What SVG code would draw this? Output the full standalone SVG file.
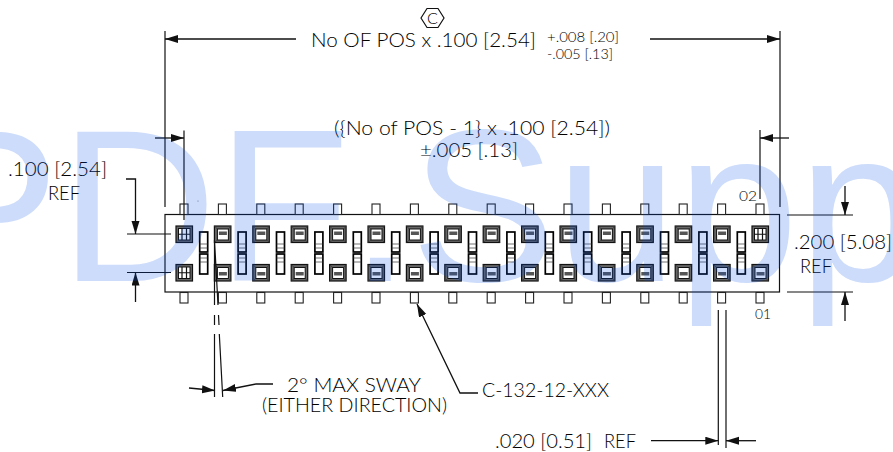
<svg xmlns="http://www.w3.org/2000/svg" xmlns:xlink="http://www.w3.org/1999/xlink" width="893" height="452" viewBox="0 0 893 452">
<style>
text{font-family:"Lato","Liberation Sans",sans-serif;fill:#000;font-size:19.500px;font-weight:300}
.s{font-size:13px}
.l{fill:none;stroke:#111;stroke-width:1.2}
.h{fill:none;stroke:#111;stroke-width:1.300;marker-end:url(#a)}
.p{fill:#fff;stroke:#222;stroke-width:1.1}
.o{fill:#fff;stroke:#111;stroke-width:1}
.w{fill:#fff;stroke:#000;stroke-width:1.700}
.n{fill:none;stroke:#333;stroke-width:.7}
.d{fill:#666;stroke:#111;stroke-width:1.200}
.wm{font-family:"Liberation Sans",Arial,sans-serif;font-size:218px;font-kerning:none;fill:#0050e6;fill-opacity:.2;font-weight:400}
</style>
<defs>
<marker id="a" markerUnits="userSpaceOnUse" markerWidth="14" markerHeight="10" refX="13" refY="4" orient="auto"><path d="M0 0L13 4L0 8Z" fill="#111"/></marker>
<g id="pin"><rect class="p" x="-4" y="-5" width="8" height="10.500"/></g>
<g id="top"><rect class="d" x="-8" y="-8" width="16.500" height="16.500"/><rect class="o" x="-5" y="-5" width="11" height="11"/><rect x="-3.500" y="-2.500" width="8" height="3.500" fill="#555"/><path class="n" d="M-8 -8L-5 -5M8.500 -8L6 -5M-8 8.500L-5 6M8.500 8.500L6 6"/></g>
<g id="bot"><rect class="d" x="-8" y="-8" width="16.500" height="16.500"/><rect class="o" x="-5" y="-5" width="11" height="11"/><rect x="-3.500" y="-.5" width="8" height="3.500" fill="#555"/><path class="n" d="M-8 -8L-5 -5M8.500 -8L6 -5M-8 8.500L-5 6M8.500 8.500L6 6"/></g>
<g id="grid"><rect class="d" x="-8" y="-8" width="16.500" height="16.500"/><rect class="o" x="-5.500" y="-5.500" width="11.500" height="11.500"/><path class="l" d="M-2 -5.500V6M2.500 -5.500V6M-5.500 .25H6"/></g>
<g id="v"><rect class="w" x="-4" y="-21" width="8" height="20"/><rect class="w" x="-4" y="1" width="8" height="20"/><path class="n" d="M-4 -9H4M-4 -5H4M-4 5H4M-4 9H4"/></g>
</defs>
<g id="body">
<rect class="l" x="165" y="214.500" width="614.500" height="77.500"/>
<circle cx="198" cy="201" r=".6" fill="#777"/>
<g id="pins">
<use xlink:href="#pin" x="184" y="209"/><use xlink:href="#pin" x="222.400" y="209"/><use xlink:href="#pin" x="260.800" y="209"/><use xlink:href="#pin" x="299.200" y="209"/><use xlink:href="#pin" x="337.600" y="209"/><use xlink:href="#pin" x="376" y="209"/><use xlink:href="#pin" x="414.400" y="209"/><use xlink:href="#pin" x="452.800" y="209"/><use xlink:href="#pin" x="491.200" y="209"/><use xlink:href="#pin" x="529.600" y="209"/><use xlink:href="#pin" x="568" y="209"/><use xlink:href="#pin" x="606.400" y="209"/><use xlink:href="#pin" x="644.800" y="209"/><use xlink:href="#pin" x="683.200" y="209"/><use xlink:href="#pin" x="721.600" y="209"/><use xlink:href="#pin" x="760" y="209"/>
<use xlink:href="#pin" x="184" y="297.500"/><use xlink:href="#pin" x="222.400" y="297.500"/><use xlink:href="#pin" x="260.800" y="297.500"/><use xlink:href="#pin" x="299.200" y="297.500"/><use xlink:href="#pin" x="337.600" y="297.500"/><use xlink:href="#pin" x="376" y="297.500"/><use xlink:href="#pin" x="414.400" y="297.500"/><use xlink:href="#pin" x="452.800" y="297.500"/><use xlink:href="#pin" x="491.200" y="297.500"/><use xlink:href="#pin" x="529.600" y="297.500"/><use xlink:href="#pin" x="568" y="297.500"/><use xlink:href="#pin" x="606.400" y="297.500"/><use xlink:href="#pin" x="644.800" y="297.500"/><use xlink:href="#pin" x="683.200" y="297.500"/><use xlink:href="#pin" x="721.600" y="297.500"/><use xlink:href="#pin" x="760" y="297.500"/>
</g>
<g id="contacts">
<use xlink:href="#grid" x="184" y="234"/><use xlink:href="#top" x="222.400" y="234"/><use xlink:href="#top" x="260.800" y="234"/><use xlink:href="#top" x="299.200" y="234"/><use xlink:href="#top" x="337.600" y="234"/><use xlink:href="#top" x="376" y="234"/><use xlink:href="#top" x="414.400" y="234"/><use xlink:href="#top" x="452.800" y="234"/><use xlink:href="#top" x="491.200" y="234"/><use xlink:href="#top" x="529.600" y="234"/><use xlink:href="#top" x="568" y="234"/><use xlink:href="#top" x="606.400" y="234"/><use xlink:href="#top" x="644.800" y="234"/><use xlink:href="#top" x="683.200" y="234"/><use xlink:href="#top" x="721.600" y="234"/><use xlink:href="#grid" x="760" y="234"/>
<use xlink:href="#grid" x="184" y="272.500"/><use xlink:href="#bot" x="222.400" y="272.500"/><use xlink:href="#bot" x="260.800" y="272.500"/><use xlink:href="#bot" x="299.200" y="272.500"/><use xlink:href="#bot" x="337.600" y="272.500"/><use xlink:href="#bot" x="376" y="272.500"/><use xlink:href="#bot" x="414.400" y="272.500"/><use xlink:href="#bot" x="452.800" y="272.500"/><use xlink:href="#bot" x="491.200" y="272.500"/><use xlink:href="#bot" x="529.600" y="272.500"/><use xlink:href="#bot" x="568" y="272.500"/><use xlink:href="#bot" x="606.400" y="272.500"/><use xlink:href="#bot" x="644.800" y="272.500"/><use xlink:href="#bot" x="683.200" y="272.500"/><use xlink:href="#bot" x="721.600" y="272.500"/><use xlink:href="#bot" x="760" y="272.500"/>
<use xlink:href="#v" x="203.700" y="253"/><use xlink:href="#v" x="242.100" y="253"/><use xlink:href="#v" x="280.500" y="253"/><use xlink:href="#v" x="318.900" y="253"/><use xlink:href="#v" x="357.300" y="253"/><use xlink:href="#v" x="395.700" y="253"/><use xlink:href="#v" x="434.100" y="253"/><use xlink:href="#v" x="472.500" y="253"/><use xlink:href="#v" x="510.900" y="253"/><use xlink:href="#v" x="549.300" y="253"/><use xlink:href="#v" x="587.700" y="253"/><use xlink:href="#v" x="626.100" y="253"/><use xlink:href="#v" x="664.500" y="253"/><use xlink:href="#v" x="702.900" y="253"/><use xlink:href="#v" x="741.300" y="253"/>
</g>
</g>
<g id="connectors">
<path class="l" d="M165 31V207M780 31V207M184 130.500V220M760 130V199"/>
<path class="h" d="M296 39H165"/><path class="h" d="M650 39H780"/>
<path class="h" d="M155 138H184"/><path class="h" d="M789 138H760"/>
<path class="l" d="M787 215H853M787 292H853M127 234H171M127 272.500H171"/>
<path class="h" d="M845 186V215"/><path class="h" d="M845 321V292"/>
<path class="h" d="M126 179H135.500V234"/><path class="h" d="M135.500 302V272.500"/>
<path class="l" d="M214.500 240V305M214.500 315V325M214.500 334V397M214.500 240L218 305M218.500 315L219 325M219.300 334L222.700 397"/>
<path class="h" d="M189 388L215 390.500"/><path class="h" d="M273 384H256L223 390.500"/>
<path class="h" d="M478 393H460L417 304"/>
<path class="l" d="M718.300 310V445M726 310V448"/>
<path class="h" d="M651 440.700H718.300"/><path class="h" d="M756 440.700H726"/>
</g>
<g id="hex"><path class="l" d="M421 18L427 8.500H438L444 18L438 27.500H427Z"/><text x="432.500" y="24" text-anchor="middle" style="font-size:16px">C</text></g>
<g id="labels">
<text x="311" y="47" textLength="225" lengthAdjust="spacingAndGlyphs">No OF POS x .100 [2.54]</text>
<text class="s" x="547" y="42" textLength="72" lengthAdjust="spacingAndGlyphs">+.008 [.20]</text>
<text class="s" x="547" y="59" textLength="66" lengthAdjust="spacingAndGlyphs">-.005 [.13]</text>
<text x="334" y="135" textLength="276" lengthAdjust="spacingAndGlyphs">({No of POS - 1} x .100 [2.54])</text>
<text x="420" y="157" textLength="98" lengthAdjust="spacingAndGlyphs">±.005 [.13]</text>
<text x="8" y="176" textLength="99" lengthAdjust="spacingAndGlyphs">.100 [2.54]</text>
<text x="48" y="200" textLength="32" lengthAdjust="spacingAndGlyphs">REF</text>
<text x="794" y="249" textLength="98" lengthAdjust="spacingAndGlyphs">.200 [5.08]</text>
<text x="800" y="273" textLength="32" lengthAdjust="spacingAndGlyphs">REF</text>
<text class="s" x="739" y="201" textLength="18" lengthAdjust="spacingAndGlyphs">02</text>
<text class="s" x="755" y="319" textLength="16" lengthAdjust="spacingAndGlyphs">01</text>
<text x="287" y="392" textLength="134" lengthAdjust="spacingAndGlyphs">2° MAX SWAY</text>
<text x="262" y="412" textLength="185" lengthAdjust="spacingAndGlyphs">(EITHER DIRECTION)</text>
<text x="482" y="397" textLength="127" lengthAdjust="spacingAndGlyphs">C-132-12-XXX</text>
<text x="495" y="448" textLength="97" lengthAdjust="spacingAndGlyphs">.020 [0.51]</text>
<text x="604" y="448" textLength="32" lengthAdjust="spacingAndGlyphs">REF</text>
</g>
<text class="wm" x="-86" y="281">PDF.Supply</text>
</svg>
